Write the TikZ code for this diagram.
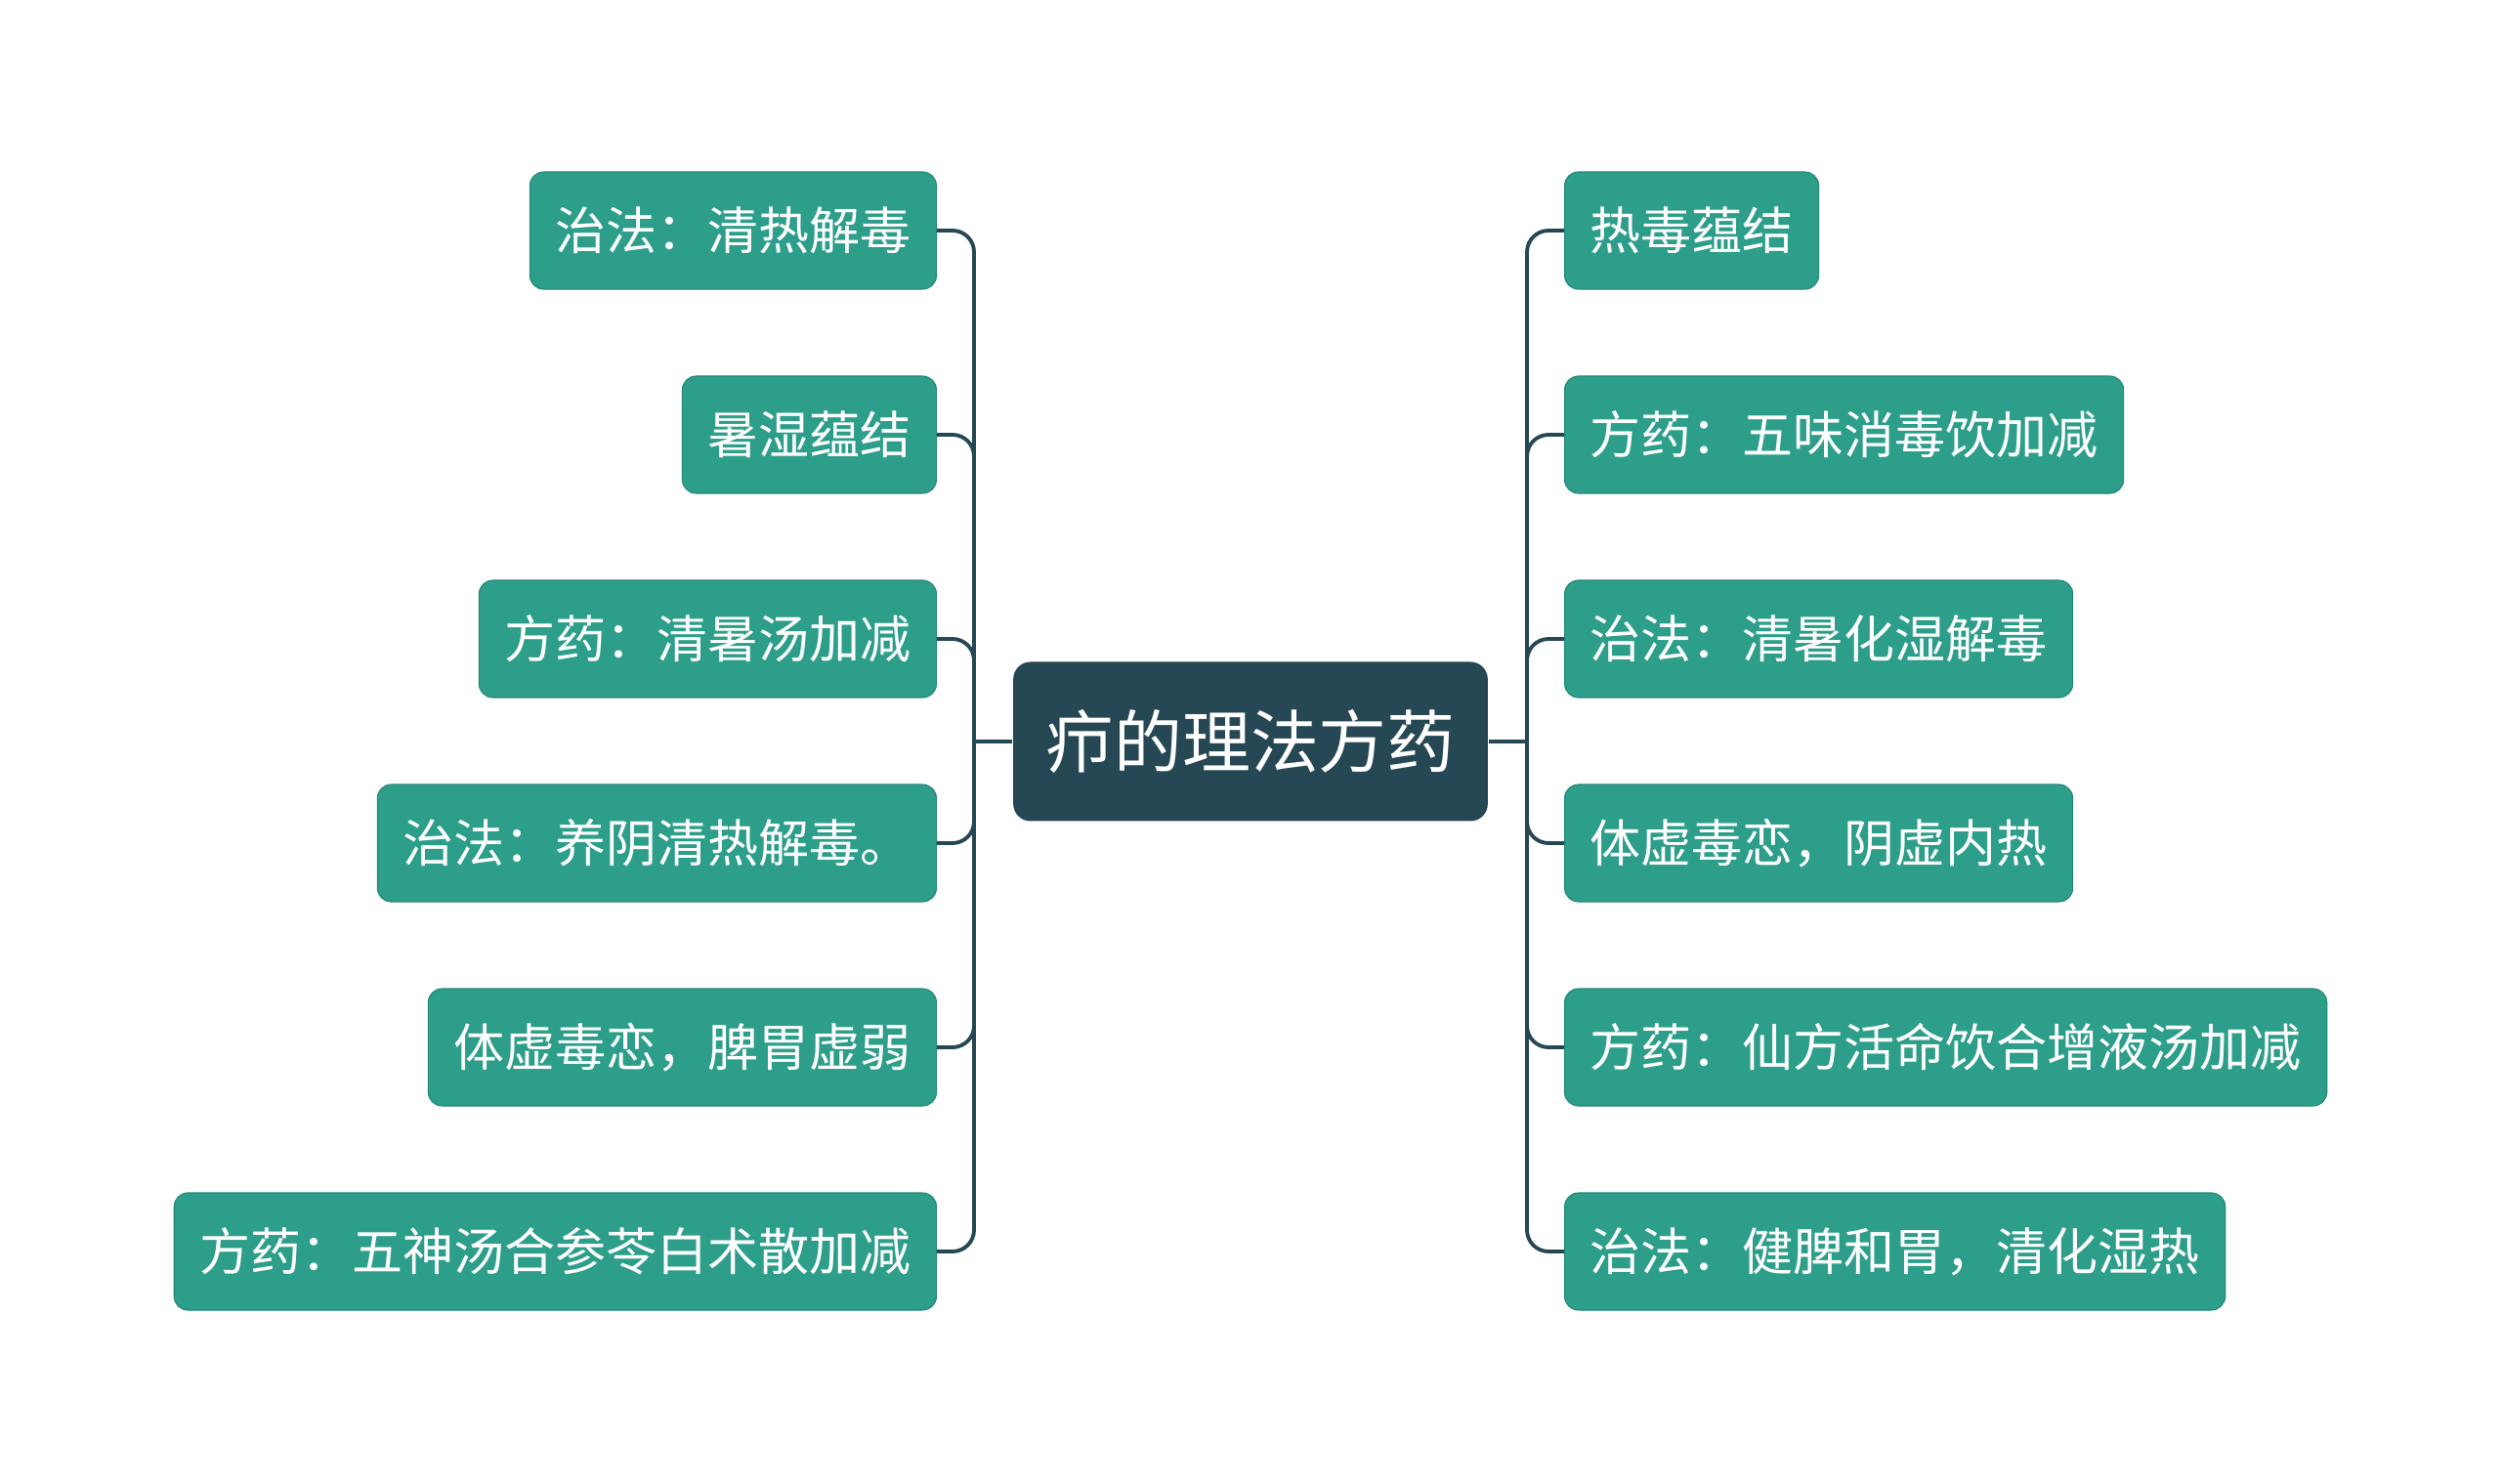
\documentclass[tikz,border=0pt]{standalone}
\usepackage{fontspec}
\setmainfont{Noto Sans CJK SC}
\usetikzlibrary{positioning,calc}
\definecolor{leafcolor}{RGB}{44,158,138}
\definecolor{rootcolor}{RGB}{38,71,84}

\begin{document}
\begin{tikzpicture}[
  topic/.style={
    fill=rootcolor,
    rounded corners=5pt,
    text=white,
    minimum height=1.63cm,
    inner xsep=0.33cm,
    font=\fontsize{19.9pt}{22pt}\selectfont
  },
  leaf/.style={
    fill=leafcolor,
    draw=leafcolor!85!black,
    line width=0.3pt,
    rounded corners=4pt,
    text=white,
    minimum height=1.2cm,
    inner xsep=0.26cm,
    font=\fontsize{14.8pt}{17pt}\selectfont
  },
  link/.style={
    draw=rootcolor,
    line width=1.1pt,
    rounded corners=0.22cm
  }
]
\useasboundingbox (0,0) rectangle (25.6,-15.19);

% -------- Root --------
\node[topic] (root) at (12.80,-7.59) {疖的理法方药};

% -------- Left branches --------
\node[leaf, anchor=east] (l1) at (9.59,-2.36)  {治法：清热解毒};
\node[leaf, anchor=east] (l2) at (9.59,-4.45)  {暑湿蕴结};
\node[leaf, anchor=east] (l3) at (9.59,-6.54)  {方药：清暑汤加减};
\node[leaf, anchor=east] (l4) at (9.59,-8.63)  {治法：养阴清热解毒。};
\node[leaf, anchor=east] (l5) at (9.59,-10.72) {体虚毒恋，脾胃虚弱};
\node[leaf, anchor=east] (l6) at (9.59,-12.81) {方药：五神汤合参苓白术散加减};

% -------- Right branches --------
\node[leaf, anchor=west] (r1) at (16.01,-2.36)  {热毒蕴结};
\node[leaf, anchor=west] (r2) at (16.01,-4.45)  {方药：五味消毒饮加减};
\node[leaf, anchor=west] (r3) at (16.01,-6.54)  {治法：清暑化湿解毒};
\node[leaf, anchor=west] (r4) at (16.01,-8.63)  {体虚毒恋，阴虚内热};
\node[leaf, anchor=west] (r5) at (16.01,-10.72) {方药：仙方活命饮合增液汤加减};
\node[leaf, anchor=west] (r6) at (16.01,-12.81) {治法：健脾和胃，清化湿热};

% -------- Connectors --------
\coordinate (lj) at (9.97,-7.59);
\coordinate (rj) at (15.63,-7.59);
\draw[link] (root.west) -- (lj);
\draw[link] (root.east) -- (rj);
\foreach \i in {1,...,6}{
  \draw[link] (lj) |- (l\i.east);
  \draw[link] (rj) |- (r\i.west);
}

\end{tikzpicture}
\end{document}
